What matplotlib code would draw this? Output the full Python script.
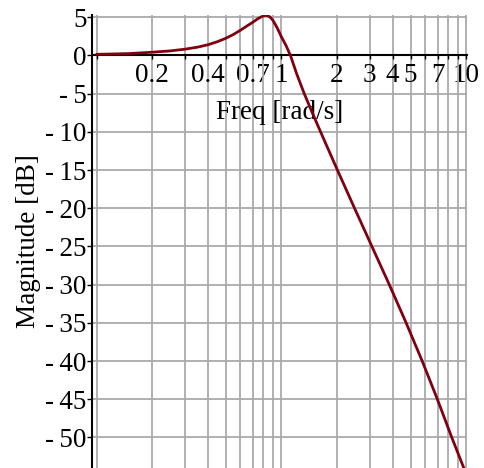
import numpy as np
import matplotlib
matplotlib.use("Agg")
import matplotlib.pyplot as plt
from matplotlib.ticker import FixedLocator, NullFormatter

plt.rcParams['font.family'] = ['Liberation Serif', 'DejaVu Serif']

# magnitude response
freq = [0.1, 0.15, 0.2, 0.25, 0.3, 0.35, 0.4, 0.45, 0.5, 0.55, 0.6, 0.65,
        0.7, 0.75, 0.8, 0.818, 0.85, 0.875, 0.9, 0.95, 1.0, 1.06, 1.12,
        1.21, 1.33, 1.47, 1.63, 1.81, 2.01, 2.489, 3.09, 3.837, 4.732,
        5.781, 6.982, 8.356, 9.705, 10.0]
mag = [0.15, 0.25, 0.43, 0.6, 0.82, 1.08, 1.4, 1.8, 2.25, 2.75, 3.3, 3.85,
       4.35, 4.85, 5.2, 5.25, 5.18, 4.95, 4.6, 3.6, 2.45, 1.3, 0.0,
       -2.4, -5.0, -7.5, -10.0, -12.5, -15.0, -20.0, -25.0, -30.0, -35.0,
       -40.0, -45.0, -50.0, -54.0, -54.8]

xticks = [0.2, 0.4, 0.7, 1, 2, 3, 4, 5, 7, 10]
xtick_labels = ['0.2', '0.4', '0.7', '1', '2', '3', '4', '5', '7', '10']
xminor = [0.1, 0.3, 0.5, 0.6, 0.8, 0.9, 6, 8, 9]
yticks = list(range(5, -55, -5))

fig = plt.figure(figsize=(4.85, 4.68), dpi=100)
ax = fig.add_axes([92 / 485, 0, 375 / 485, 453 / 468])

ax.plot(freq, mag, color='#800010', lw=2.0, zorder=3,
        solid_joinstyle='round', solid_capstyle='round')

ax.set_xscale('log')
ax.set_xlim(0.0945, 10.1)
ax.set_ylim(-54.0, 5.3)

ax.xaxis.set_major_locator(FixedLocator(xticks))
ax.xaxis.set_minor_locator(FixedLocator(xminor))
ax.set_xticklabels(xtick_labels)
ax.xaxis.set_minor_formatter(NullFormatter())
ax.set_yticks(yticks)
ax.set_yticklabels([str(v) if v >= 0 else '-\u2009' + str(-v) for v in yticks])

ax.grid(True, which='both', color='#aaaaaa', lw=1.3, zorder=0)

for s in ['top', 'right']:
    ax.spines[s].set_visible(False)
ax.spines['bottom'].set_position(('data', 0))
ax.spines['bottom'].set_linewidth(1.5)
ax.spines['left'].set_linewidth(1.5)

ax.tick_params(axis='x', which='both', direction='out', length=3, width=1,
               labelsize=19.5, pad=2.5)
ax.tick_params(axis='y', direction='out', length=3.5, width=1,
               labelsize=19.5, pad=0.5)

ax.set_xlabel('Freq [rad/s]', fontsize=19.5)
ax.xaxis.set_label_coords(0.5, 0.77)
ax.xaxis.label.set_va('baseline')
ax.set_ylabel('Magnitude [dB]', fontsize=19.5)
ax.yaxis.set_label_coords(-0.168, 0.5)
ax.yaxis.label.set_va('center')

fig.savefig('out.png', dpi=100)
